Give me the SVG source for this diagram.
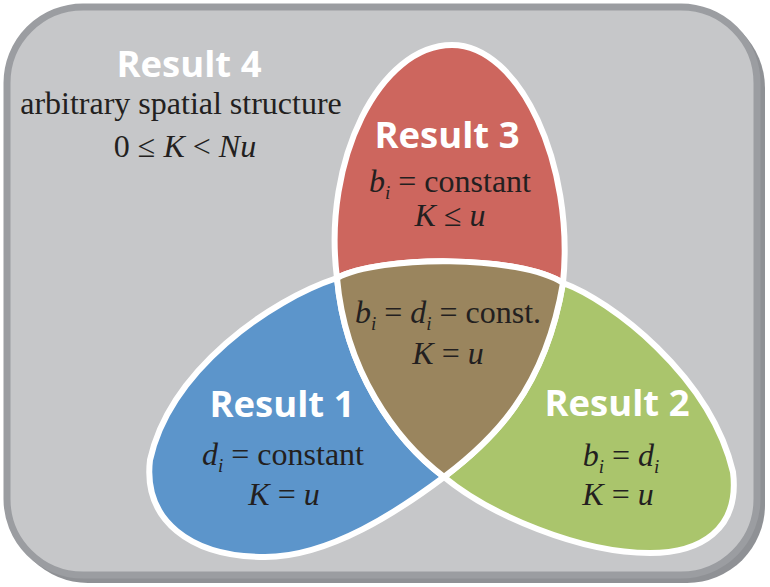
<svg xmlns="http://www.w3.org/2000/svg" width="770" height="587" viewBox="0 0 770 587">
  <style>
    .title { font-family: "Open Sans", "Liberation Sans", sans-serif; font-weight: 700; font-size: 35px; fill: #ffffff; text-anchor: middle; }
    .math { font-family: "Liberation Serif", "Times New Roman", serif; font-size: 32px; fill: #231f20; text-anchor: middle; }
    .it { font-style: italic; }
    .sub { font-style: italic; font-size: 19px; }
    .region { stroke: #ffffff; stroke-width: 6; stroke-linejoin: round; }
  </style>
  <g id="result4">
    <rect x="10" y="10" width="755" height="573" rx="78" fill="#8f9195"/>
    <rect x="7" y="7" width="750" height="568" rx="76" fill="#c6c7c9" stroke="#9b9da1" stroke-width="7"/>
    <text class="title" x="189" y="77" textLength="145" lengthAdjust="spacingAndGlyphs">Result 4</text>
    <text class="math" x="181" y="114">arbitrary spatial structure</text>
    <text class="math" x="185" y="157">0 ≤ <tspan class="it">K</tspan> &lt; <tspan class="it">Nu</tspan></text>
  </g>
  <g id="result3">
    <path class="region" fill="#cd665e" d="M337,278 C322,160 380,45 452,45 C520,45 575,165 563,283 C520,255 380,255 337,278 Z"/>
    <text class="title" x="447" y="148" textLength="145" lengthAdjust="spacingAndGlyphs">Result 3</text>
    <text class="math" x="450" y="192"><tspan class="it">b</tspan><tspan class="sub" dy="7">i</tspan><tspan dy="-7"> = constant</tspan></text>
    <text class="math" x="450" y="226"><tspan class="it">K</tspan> ≤ <tspan class="it">u</tspan></text>
  </g>
  <g id="result1">
    <path class="region" fill="#5c95cb" d="M444,477 C395,440 345,370 337,278 C270,300 170,370 150,460 C143,520 190,557 265,557 C330,557 400,510 444,477 Z"/>
    <text class="title" x="282" y="417" textLength="145" lengthAdjust="spacingAndGlyphs">Result 1</text>
    <text class="math" x="283" y="465"><tspan class="it">d</tspan><tspan class="sub" dy="7">i</tspan><tspan dy="-7"> = constant</tspan></text>
    <text class="math" x="284" y="505"><tspan class="it">K</tspan> = <tspan class="it">u</tspan></text>
  </g>
  <g id="result2">
    <path class="region" fill="#aac56c" d="M444,477 C493,440 545,390 563,283 C610,300 710,375 733,472 C740,530 700,553 650,553 C580,553 490,515 444,477 Z"/>
    <text class="title" x="617" y="416" textLength="145" lengthAdjust="spacingAndGlyphs">Result 2</text>
    <text class="math" x="621" y="466"><tspan class="it">b</tspan><tspan class="sub" dy="7">i</tspan><tspan dy="-7"> = </tspan><tspan class="it">d</tspan><tspan class="sub" dy="7">i</tspan></text>
    <text class="math" x="618" y="505"><tspan class="it">K</tspan> = <tspan class="it">u</tspan></text>
  </g>
  <g id="intersection">
    <path class="region" fill="#9a855e" d="M444,477 C395,440 345,370 337,278 C380,255 520,255 563,283 C545,390 493,440 444,477 Z"/>
    <text class="math" x="448" y="323"><tspan class="it">b</tspan><tspan class="sub" dy="7">i</tspan><tspan dy="-7"> = </tspan><tspan class="it">d</tspan><tspan class="sub" dy="7">i</tspan><tspan dy="-7"> = const.</tspan></text>
    <text class="math" x="448" y="364"><tspan class="it">K</tspan> = <tspan class="it">u</tspan></text>
  </g>
  <g id="connectors"/>
</svg>
